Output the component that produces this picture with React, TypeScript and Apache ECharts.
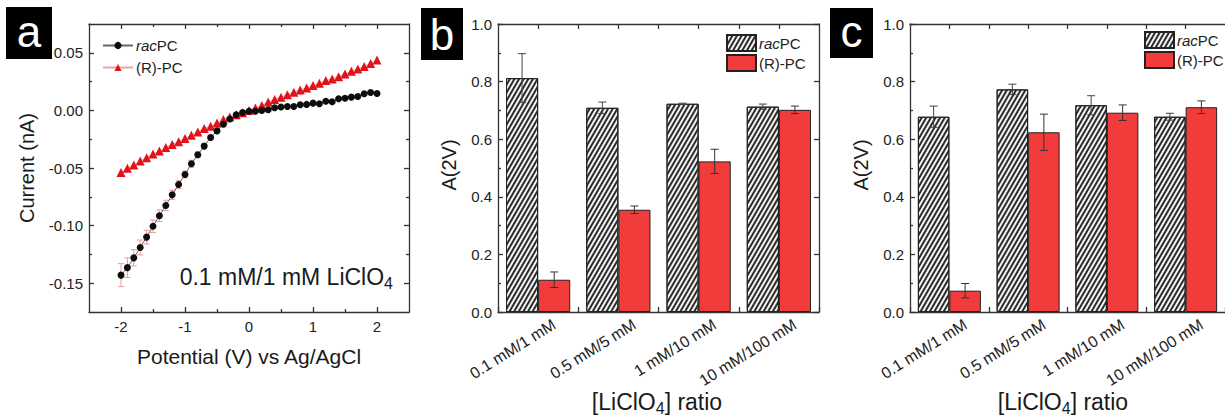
import React, { useEffect, useRef } from "react";
import * as echarts from "echarts";

const FONT = "'Liberation Sans', Arial, Helvetica, sans-serif";

// ---------- Panel a data ----------
const potentials = [
  -2.0, -1.9, -1.8, -1.7, -1.6, -1.5, -1.4, -1.3, -1.2, -1.1, -1.0,
  -0.9, -0.8, -0.7, -0.6, -0.5, -0.4, -0.3, -0.2, -0.1, 0.0,
  0.1, 0.2, 0.3, 0.4, 0.5, 0.6, 0.7, 0.8, 0.9, 1.0,
  1.1, 1.2, 1.3, 1.4, 1.5, 1.6, 1.7, 1.8, 1.9, 2.0,
];
const racCurrent = [
  -0.143, -0.1365, -0.128, -0.119, -0.11, -0.1006, -0.0914, -0.0825, -0.0733, -0.0644, -0.0556,
  -0.0463, -0.0385, -0.031, -0.0235, -0.0178, -0.012, -0.0075, -0.0038, -0.0018, -0.0008,
  -0.0008, 0.0, 0.0005, 0.0023, 0.0029, 0.0034, 0.0034, 0.0049, 0.0052, 0.0063,
  0.0057, 0.008, 0.0075, 0.0101, 0.0106, 0.0115, 0.0121, 0.0144, 0.0155, 0.0146,
];
const racCurrentErr = [
  0.01, 0.0085, 0.007, 0.0065, 0.006, 0.0055, 0.005, 0.0045, 0.004, 0.0035, 0.003,
  0.003, 0.0025, 0.002, 0.002, 0.0015, 0.0015, 0.001, 0.001, 0.001, 0.001,
  0.001, 0.001, 0.001, 0.001, 0.001, 0.001, 0.001, 0.001, 0.001, 0.001,
  0.001, 0.001, 0.001, 0.001, 0.001, 0.001, 0.001, 0.001, 0.001, 0.001,
];
const rpcCurrent = [
  -0.054, -0.0503, -0.0474, -0.044, -0.0411, -0.0379, -0.0353, -0.0322, -0.0296, -0.0273, -0.0244,
  -0.0216, -0.0187, -0.0158, -0.0138, -0.0109, -0.008, -0.0057, -0.0037, -0.002, 0.0,
  0.002, 0.0043, 0.0072, 0.0095, 0.0115, 0.0135, 0.0158, 0.0178, 0.0195, 0.0216,
  0.0236, 0.0259, 0.0273, 0.0293, 0.0316, 0.0339, 0.0359, 0.0382, 0.0408, 0.0437,
];
const potentialTicks = [-2, -1, 0, 1, 2];
const potentialMinorTicks = [-1.5, -0.5, 0.5, 1.5];
const currentTicks = [-0.15, -0.1, -0.05, 0, 0.05];
const currentMinorTicks = [-0.125, -0.075, -0.025, 0.025];

// ---------- Panels b and c data ----------
const ratioCategories = ["0.1 mM/1 mM", "0.5 mM/5 mM", "1 mM/10 mM", "10 mM/100 mM"];
const bRac = [0.812, 0.709, 0.723, 0.713];
const bRacErr = [0.085, 0.02, 0.002, 0.009];
const bRpc = [0.112, 0.355, 0.523, 0.702];
const bRpcErr = [0.027, 0.013, 0.042, 0.013];
const cRac = [0.678, 0.773, 0.718, 0.678];
const cRacErr = [0.037, 0.018, 0.033, 0.012];
const cRpc = [0.074, 0.624, 0.692, 0.711];
const cRpcErr = [0.025, 0.063, 0.027, 0.022];
const absTicks = [0, 0.2, 0.4, 0.6, 0.8, 1.0];
const absMinorTicks = [0.1, 0.3, 0.5, 0.7, 0.9];
const halfCategoryTicks = [0.5, 1, 1.5, 2, 2.5, 3, 3.5];

const legendLabels: Record<string, string> = {
  "a-rac": "{i|rac}PC",
  "a-rpc": "(R)-PC",
  "b-rac": "{i|rac}PC",
  "b-rpc": "(R)-PC",
  "c-rac": "{i|rac}PC",
  "c-rpc": "(R)-PC",
};

const AX = { color: "#333", width: 1.3 };
const RED = "#f23c3c";

function xVal(gridIndex: number, position: string, min: number, max: number, ticks: number[], len: number, showLine: boolean, labels?: any) {
  return {
    type: "value",
    gridIndex,
    position,
    min,
    max,
    axisLine: { show: showLine, onZero: false, lineStyle: AX },
    axisTick: { show: true, inside: true, length: len, customValues: ticks, lineStyle: AX },
    axisLabel: labels ? labels : { show: false },
    splitLine: { show: false },
  };
}

function yVal(gridIndex: number, position: string, min: number, max: number, ticks: number[], len: number, showLine: boolean, labels?: any) {
  return {
    type: "value",
    gridIndex,
    position,
    min,
    max,
    axisLine: { show: showLine, onZero: false, lineStyle: AX },
    axisTick: { show: true, inside: true, length: len, customValues: ticks, lineStyle: AX },
    axisLabel: labels ? labels : { show: false },
    splitLine: { show: false },
  };
}

function catAxis(gridIndex: number) {
  return {
    type: "category",
    gridIndex,
    position: "bottom",
    data: ratioCategories,
    axisLine: { show: true, onZero: false, lineStyle: AX },
    axisTick: { show: true, inside: true, length: 5, interval: 0, lineStyle: AX },
    axisLabel: {
      show: true,
      interval: 0,
      rotate: 32,
      fontSize: 16,
      fontFamily: FONT,
      color: "#222",
      margin: 21,
      padding: [0, -19, 0, 0],
    },
    splitLine: { show: false },
  };
}

function errRenderer(color: string, side: number, cap: number, categoryOffset: boolean) {
  return (params: any, api: any) => {
    const x0 = api.value(0);
    const v = api.value(1);
    const e = api.value(2);
    const c = api.coord([x0, v]);
    let x = c[0];
    if (categoryOffset) {
      const band = api.size([1, 0])[0];
      x = c[0] + side * band * 0.2;
    }
    const top = api.coord([x0, v + e])[1];
    const bot = api.coord([x0, v - e])[1];
    const st = { stroke: color, lineWidth: 1 };
    return {
      type: "group",
      children: [
        { type: "line", shape: { x1: x, y1: top, x2: x, y2: bot }, style: st },
        { type: "line", shape: { x1: x - cap, y1: top, x2: x + cap, y2: top }, style: st },
        { type: "line", shape: { x1: x - cap, y1: bot, x2: x + cap, y2: bot }, style: st },
      ],
    };
  };
}

const hatch = {
  symbol: "rect",
  symbolSize: 1,
  dashArrayX: [1, 0],
  dashArrayY: [1.2, 2.0],
  rotation: -Math.PI / 3,
  color: "#2b2b2b",
};

function barPair(prefix: string, axisIdx: number, yIdx: number, rac: number[], racErr: number[], rpc: number[], rpcErr: number[]) {
  return [
    {
      type: "bar",
      name: prefix + "-rac",
      xAxisIndex: axisIdx,
      yAxisIndex: yIdx,
      data: rac,
      barWidth: "40%",
      barGap: "0%",
      itemStyle: { color: "#f4f4f4", borderColor: "#222", borderWidth: 1, decal: hatch },
      z: 2,
    },
    {
      type: "bar",
      name: prefix + "-rpc",
      xAxisIndex: axisIdx,
      yAxisIndex: yIdx,
      data: rpc,
      barWidth: "40%",
      barGap: "0%",
      itemStyle: { color: RED, borderColor: "#222", borderWidth: 1 },
      z: 2,
    },
    {
      type: "custom",
      name: prefix + "-rac-err",
      xAxisIndex: axisIdx,
      yAxisIndex: yIdx,
      data: rac.map((v, i) => [i, v, racErr[i]]),
      encode: { x: 0, y: 1 },
      renderItem: errRenderer("#444", -1, 4, true),
      z: 5,
    },
    {
      type: "custom",
      name: prefix + "-rpc-err",
      xAxisIndex: axisIdx,
      yAxisIndex: yIdx,
      data: rpc.map((v, i) => [i, v, rpcErr[i]]),
      encode: { x: 0, y: 1 },
      renderItem: errRenderer("#333", 1, 4, true),
      z: 5,
    },
  ];
}

function legendFor(prefix: string, left: number, top: number, bars: boolean) {
  return {
    data: [prefix + "-rac", prefix + "-rpc"],
    left,
    top,
    orient: "vertical",
    selectedMode: false,
    itemWidth: bars ? 29 : 30,
    itemHeight: bars ? 16 : 9,
    itemGap: bars ? 2 : 7,
    icon: bars ? "rect" : undefined,
    padding: 0,
    formatter: (n: string) => legendLabels[n] || n,
    textStyle: {
      fontSize: 15,
      fontFamily: FONT,
      color: "#222",
      padding: [0, 0, 0, -2],
      rich: { i: { fontStyle: "italic", fontSize: 15, fontFamily: FONT, color: "#222" } },
    },
  };
}

function richSubText(x: number, y: number, align: string, size: number, parts: string) {
  return {
    type: "text",
    x,
    y,
    silent: true,
    style: {
      text: parts,
      textAlign: align,
      align,
      textVerticalAlign: "top",
      verticalAlign: "top",
      fontFamily: FONT,
      fontSize: size,
      fill: "#1a1a1a",
      rich: {
        m: { fontSize: size, lineHeight: size + 3, fontFamily: FONT, fill: "#1a1a1a", color: "#1a1a1a", verticalAlign: "top" },
        s: {
          fontSize: Math.round(size * 0.7),
          lineHeight: Math.round(size * 0.7),
          padding: [12, 0, 0, 0],
          fontFamily: FONT,
          fill: "#1a1a1a",
          color: "#1a1a1a",
          verticalAlign: "bottom",
        },
      },
    },
  };
}

function panelLabel(x: number, y: number, w: number, h: number, letter: string, ty: number) {
  return [
    { type: "rect", shape: { x, y, width: w, height: h }, style: { fill: "#000" }, silent: true },
    {
      type: "text",
      x: x + w / 2,
      y: ty,
      silent: true,
      style: {
        text: letter,
        textAlign: "center",
        align: "center",
        textVerticalAlign: "middle",
        verticalAlign: "middle",
        fontFamily: FONT,
        fontSize: 44,
        fill: "#fff",
      },
    },
  ];
}

function axisTitle(x: number, y: number, text: string, rotate: boolean, size: number) {
  return {
    type: "text",
    x,
    y,
    rotation: rotate ? Math.PI / 2 : 0,
    silent: true,
    style: {
      text,
      textAlign: "center",
      align: "center",
      textVerticalAlign: "middle",
      verticalAlign: "middle",
      fontFamily: FONT,
      fontSize: size,
      fill: "#1a1a1a",
    },
  };
}

export default function App() {
  const ref = useRef<HTMLDivElement>(null);

  useEffect(() => {
    if (!ref.current) return;
    document.body.style.margin = "0";
    const chart = echarts.init(ref.current, undefined, { renderer: "svg" });

    const aLabelX = { show: true, customValues: potentialTicks, fontSize: 15, fontFamily: FONT, color: "#222", margin: 7 };
    const aLabelY = {
      show: true,
      customValues: currentTicks,
      fontSize: 15,
      fontFamily: FONT,
      color: "#222",
      margin: 6,
      formatter: (v: number) => v.toFixed(2),
    };
    const absLabel = {
      show: true,
      customValues: absTicks,
      fontSize: 15,
      fontFamily: FONT,
      color: "#222",
      margin: 6,
      formatter: (v: number) => v.toFixed(1),
    };

    const option: any = {
      animation: false,
      backgroundColor: "#fff",
      textStyle: { fontFamily: FONT },
      grid: [
        { left: 89, top: 24, width: 320, height: 288, containLabel: false },
        { left: 498, top: 24, width: 321, height: 288, containLabel: false },
        { left: 910, top: 24, width: 318, height: 288, containLabel: false },
      ],
      xAxis: [
        xVal(0, "bottom", -2.5, 2.5, potentialTicks, 5, true, aLabelX),
        xVal(0, "top", -2.5, 2.5, potentialTicks, 5, true),
        xVal(0, "bottom", -2.5, 2.5, potentialMinorTicks, 3, false),
        xVal(0, "top", -2.5, 2.5, potentialMinorTicks, 3, false),
        catAxis(1),
        xVal(1, "top", 0, 4, halfCategoryTicks, 5, true),
        catAxis(2),
        xVal(2, "top", 0, 4, halfCategoryTicks, 5, true),
      ],
      yAxis: [
        yVal(0, "left", -0.175, 0.075, currentTicks, 5, true, aLabelY),
        yVal(0, "right", -0.175, 0.075, currentTicks, 5, true),
        yVal(0, "left", -0.175, 0.075, currentMinorTicks, 3, false),
        yVal(0, "right", -0.175, 0.075, currentMinorTicks, 3, false),
        yVal(1, "left", 0, 1, absTicks, 5, true, absLabel),
        yVal(1, "right", 0, 1, absTicks, 5, true),
        yVal(2, "left", 0, 1, absTicks, 5, true, absLabel),
        yVal(1, "left", 0, 1, absMinorTicks, 3, false),
        yVal(2, "left", 0, 1, absMinorTicks, 3, false),
      ],
      legend: [legendFor("a", 102, 38, false), legendFor("b", 726, 34, true), legendFor("c", 1144, 31, true)],
      series: [
        {
          type: "line",
          name: "a-rpc",
          xAxisIndex: 0,
          yAxisIndex: 0,
          data: potentials.map((p, i) => [p, rpcCurrent[i]]),
          symbol: "triangle",
          symbolSize: 9,
          itemStyle: { color: "#e3121a" },
          lineStyle: { color: "#f3a0a0", width: 1 },
          z: 3,
        },
        {
          type: "custom",
          name: "a-rac-err",
          xAxisIndex: 0,
          yAxisIndex: 0,
          data: potentials.map((p, i) => [p, racCurrent[i], racCurrentErr[i]]),
          encode: { x: 0, y: 1 },
          renderItem: errRenderer("#ee9a9a", 0, 3, false),
          z: 4,
        },
        {
          type: "line",
          name: "a-rac",
          xAxisIndex: 0,
          yAxisIndex: 0,
          data: potentials.map((p, i) => [p, racCurrent[i]]),
          symbol: "circle",
          symbolSize: 7,
          itemStyle: { color: "#0d0d0d" },
          lineStyle: { color: "#666", width: 1 },
          z: 5,
        },
        ...barPair("b", 4, 4, bRac, bRacErr, bRpc, bRpcErr),
        ...barPair("c", 6, 6, cRac, cRacErr, cRpc, cRpcErr),
      ],
      graphic: [
        ...panelLabel(6, 7, 46, 52, "a", 31.5),
        ...panelLabel(421, 8, 42, 52, "b", 34),
        ...panelLabel(830, 8, 43, 50, "c", 31.5),
        axisTitle(27, 168, "Current (nA)", true, 20),
        axisTitle(249, 356, "Potential (V) vs Ag/AgCl", false, 21),
        axisTitle(449, 165, "A(2V)", true, 20),
        axisTitle(861, 165, "A(2V)", true, 20),
        richSubText(393, 265, "right", 23, "{m|0.1 mM/1 mM LiClO}{s|4}"),
        richSubText(657, 390, "center", 23, "{m|[LiClO}{s|4}{m|] ratio}"),
        richSubText(1063, 390, "center", 23, "{m|[LiClO}{s|4}{m|] ratio}"),
      ],
    };

    chart.setOption(option);
    return () => chart.dispose();
  }, []);

  return (
    <div
      ref={ref}
      style={{ position: "fixed", left: 0, top: 0, width: 1225, height: 418, background: "#fff" }}
    />
  );
}
